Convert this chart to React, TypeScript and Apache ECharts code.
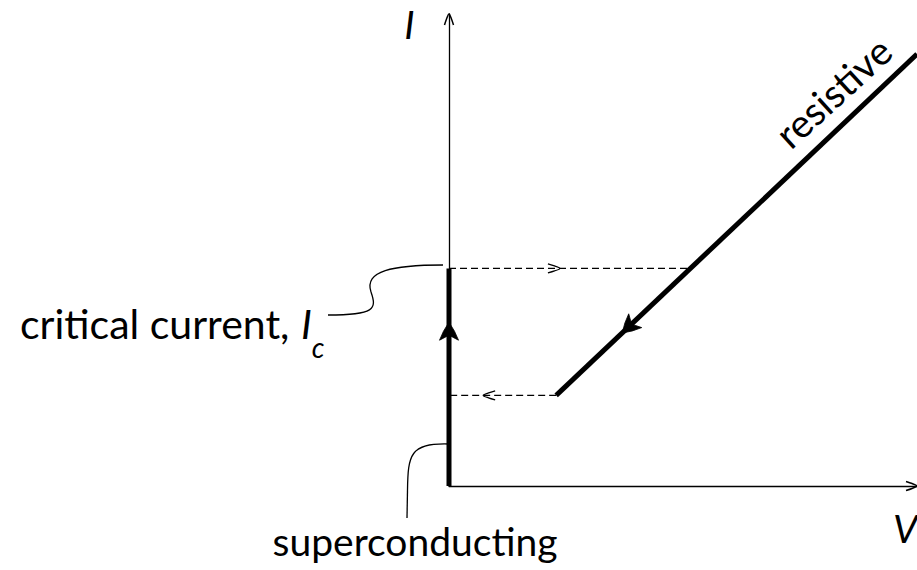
import React, { useEffect, useRef } from "react";
import * as echarts from "echarts";

// ---- data (V on x, I on y, arbitrary units) ----
const V_MAX = 10;
const I_MAX = 10;
const criticalCurrent = 4.61;
const retrappingCurrent = 1.92;

const superconductingV = [0, 0];
const superconductingI = [0, criticalCurrent];

const resistiveV = [2.29, 10];
const resistiveI = [retrappingCurrent, 9.15];

const switchV = [0, 5.16];
const switchI = [criticalCurrent, criticalCurrent];

const retrapV = [2.29, 0];
const retrapI = [retrappingCurrent, retrappingCurrent];

// arrowheads: [V, I, directionV, directionI]
const flowArrows = [
  [0, 3.47, 0, 1],
  [3.7, 3.24, -1, -0.938],
];
const jumpArrows = [
  [2.37, criticalCurrent, 1, 0],
  [0.73, retrappingCurrent, -1, 0],
];
const axisArrows = [
  [0, I_MAX, 0, 1],
  [V_MAX, 0, 1, 0],
];

const FONT = "Lato, 'Open Sans', sans-serif";

function pairs(xs: number[], ys: number[]) {
  return xs.map((x, i) => [x, ys[i]]);
}

function frame(api: any) {
  const x = api.value(0);
  const y = api.value(1);
  const p = api.coord([x, y]);
  const q = api.coord([x + api.value(2), y + api.value(3)]);
  let ux = q[0] - p[0];
  let uy = q[1] - p[1];
  const len = Math.hypot(ux, uy) || 1;
  ux /= len;
  uy /= len;
  const nx = -uy;
  const ny = ux;
  return (a: number, b: number) => [p[0] - ux * a + nx * b, p[1] - uy * a + ny * b];
}

function stealthArrow(L: number, W: number, notch: number) {
  return (_params: any, api: any) => {
    const pt = frame(api);
    return {
      type: "polygon",
      shape: {
        points: [
          pt(0, 0),
          pt(L * 0.5, W * 0.58),
          pt(L, W),
          pt(L - notch, 0),
          pt(L, -W),
          pt(L * 0.5, -W * 0.58),
        ],
      },
      style: { fill: "#000", stroke: "#000", lineWidth: 0.8 },
    };
  };
}

function openArrow(L: number, W: number, lw: number) {
  return (_params: any, api: any) => {
    const pt = frame(api);
    return {
      type: "polyline",
      shape: { points: [pt(L, W), pt(L * 0.45, W * 0.55), pt(0, 0), pt(L * 0.45, -W * 0.55), pt(L, -W)], smooth: 0.3 },
      style: { stroke: "#000", lineWidth: lw, fill: "none" },
    };
  };
}

export default function App() {
  const ref = useRef<HTMLDivElement>(null);

  useEffect(() => {
    document.body.style.margin = "0";
    if (!ref.current) return;
    const chart = echarts.init(ref.current, null, { renderer: "svg" });

    const lineSeries = (xs: number[], ys: number[], width: number, dashed: boolean) => ({
      type: "line",
      data: pairs(xs, ys),
      symbol: "none",
      showSymbol: false,
      clip: false,
      silent: true,
      lineStyle: { color: "#000", width, type: dashed ? [7, 4] : "solid", cap: "butt" },
    });

    const txt = (text: string, x: number, y: number, size: number, align: string, italic = false, rotation = 0) => ({
      type: "text",
      x,
      y,
      rotation,
      silent: true,
      style: {
        text,
        fill: "#000",
        fontSize: size,
        fontFamily: FONT,
        fontStyle: italic ? "italic" : "normal",
        align,
        textAlign: align,
        verticalAlign: "middle",
        textVerticalAlign: "middle",
      },
    });

    const curveStyle = { stroke: "#000", lineWidth: 1.3, fill: null };

    chart.setOption({
      animation: false,
      backgroundColor: "#fff",
      grid: { left: 449, right: 0, top: 14, bottom: 84, containLabel: false },
      xAxis: {
        type: "value",
        min: 0,
        max: V_MAX,
        axisLine: { show: true, onZero: false, lineStyle: { color: "#000", width: 1.3 } },
        axisTick: { show: false },
        axisLabel: { show: false },
        splitLine: { show: false },
      },
      yAxis: {
        type: "value",
        min: 0,
        max: I_MAX,
        axisLine: { show: true, onZero: false, lineStyle: { color: "#000", width: 1.3 } },
        axisTick: { show: false },
        axisLabel: { show: false },
        splitLine: { show: false },
      },
      series: [
        lineSeries(switchV, switchI, 1.2, true),
        lineSeries(retrapV, retrapI, 1.2, true),
        lineSeries(superconductingV, superconductingI, 5, false),
        lineSeries(resistiveV, resistiveI, 5, false),
        { type: "custom", data: flowArrows, renderItem: stealthArrow(18, 9.5, 5), silent: true, clip: false },
        { type: "custom", data: jumpArrows, renderItem: openArrow(12, 4.5, 1.2), silent: true, clip: false },
        { type: "custom", data: axisArrows, renderItem: openArrow(11, 4.5, 1.5), silent: true, clip: false },
      ],
      graphic: [
        { type: "bezierCurve", silent: true, shape: { x1: 443, y1: 265, cpx1: 392, cpy1: 265, cpx2: 364, cpy2: 271, x2: 371, y2: 292 }, style: curveStyle },
        { type: "bezierCurve", silent: true, shape: { x1: 371, y1: 292, cpx1: 377, cpy1: 309, cpx2: 375, cpy2: 315, x2: 328, y2: 315 }, style: curveStyle },
        { type: "bezierCurve", silent: true, shape: { x1: 448, y1: 444, cpx1: 410, cpy1: 443, cpx2: 408, cpy2: 455, x2: 407.5, y2: 490 }, style: curveStyle },
        { type: "line", silent: true, shape: { x1: 407.5, y1: 490, x2: 407, y2: 518 }, style: curveStyle },
        {
          type: "text",
          x: 20,
          y: 323,
          silent: true,
          style: {
            text: "{n|critical current, }{i|I}{s|c}",
            fill: "#000",
            fontFamily: FONT,
            fontSize: 41,
            align: "left",
            textAlign: "left",
            verticalAlign: "middle",
            textVerticalAlign: "middle",
            rich: {
              n: { fontSize: 41, fontFamily: FONT, lineHeight: 76, verticalAlign: "middle" },
              i: { fontSize: 41, fontFamily: FONT, fontStyle: "italic", lineHeight: 76, verticalAlign: "middle", padding: [0, 0, 0, 1] },
              s: { fontSize: 28, fontFamily: FONT, fontStyle: "italic", lineHeight: 12, verticalAlign: "bottom" },
            },
          },
        },
        txt("superconducting", 415, 541, 39, "center"),
        txt("I", 409.5, 24, 39, "center", true),
        txt("V", 893, 528, 39, "left", true),
        txt("resistive", 833, 92, 39, "center", false, (42.5 * Math.PI) / 180),
      ],
    });

    return () => chart.dispose();
  }, []);

  return <div ref={ref} style={{ width: 917, height: 570, background: "#fff" }} />;
}
